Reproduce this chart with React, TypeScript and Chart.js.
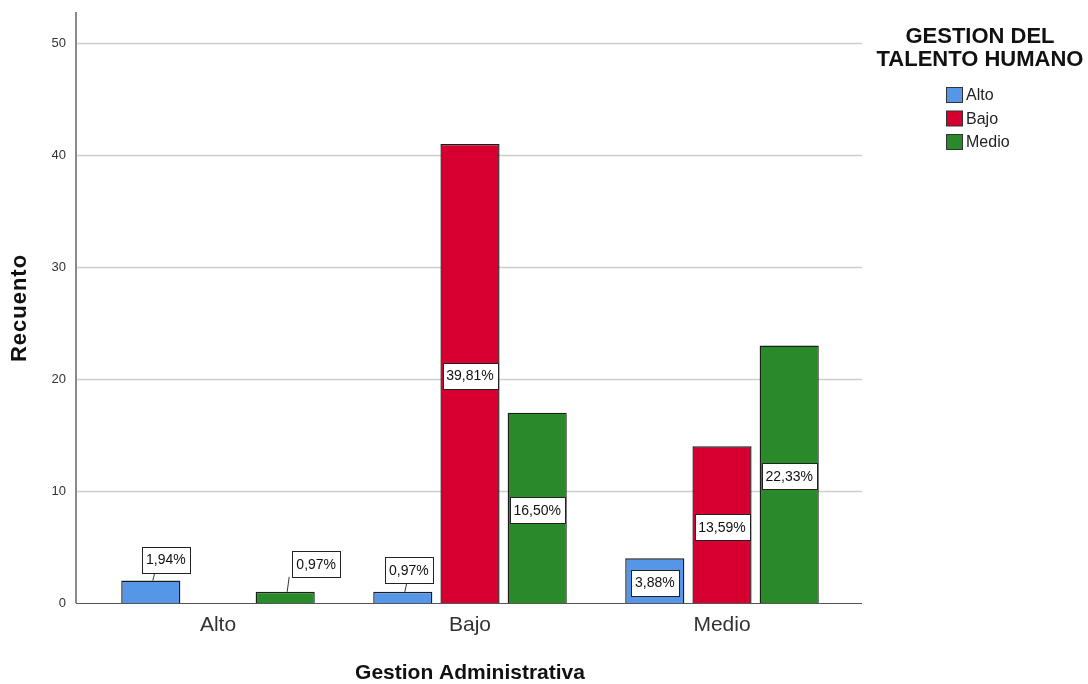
import React, { useEffect, useRef } from "react";
import { Chart, registerables } from "chart.js";

Chart.register(...registerables);

// Counts by "Gestion Administrativa" level, split by "Gestion del Talento Humano" level
const categories = ["Alto", "Bajo", "Medio"];
const seriesNames = ["Alto", "Bajo", "Medio"];
const altoCounts = [2, 1, 4];
const bajoCounts = [0, 41, 14];
const medioCounts = [1, 17, 23];
const yTicks = [0, 10, 20, 30, 40, 50];
const yAxisMax = 52.8;
const totalCases = 103;

const seriesColors = ["#5596E6", "#D5002F", "#288A28"];
const FONT = "'Liberation Sans', Arial, Helvetica, sans-serif";

// Label nudges for short bars whose percentage box sits above the bar
const calloutNudges: Record<string, { dx: number; gap: number }> = {
  "0-0": { dx: 15, gap: 8 },
  "2-0": { dx: 31, gap: 15 },
  "0-1": { dx: 6, gap: 9 },
};

const fmtPct = (v: number) => ((v / totalCases) * 100).toFixed(2).replace(".", ",") + "%";

const decorPlugin = {
  id: "decor",
  beforeDatasetsDraw(chart: any) {
    const { ctx, chartArea, scales } = chart;
    const y = scales.y;
    const axisLeft = 76;
    const axisRight = 862;
    ctx.save();
    ctx.strokeStyle = "#cdcdcd";
    ctx.lineWidth = 1.6;
    yTicks.forEach((t) => {
      if (t === 0) return;
      const py = Math.round(y.getPixelForValue(t)) + 0.5;
      ctx.beginPath();
      ctx.moveTo(axisLeft, py);
      ctx.lineTo(axisRight, py);
      ctx.stroke();
    });
    // vertical axis line
    ctx.strokeStyle = "#8a8a8a";
    ctx.lineWidth = 2;
    ctx.beginPath();
    ctx.moveTo(axisLeft, chartArea.top);
    ctx.lineTo(axisLeft, chartArea.bottom);
    ctx.stroke();
    ctx.restore();
  },
  afterDatasetsDraw(chart: any) {
    const { ctx, chartArea, scales } = chart;
    const y = scales.y;
    ctx.save();
    // baseline
    ctx.strokeStyle = "#555555";
    ctx.lineWidth = 1.2;
    const by = Math.round(y.getPixelForValue(0)) + 0.5;
    ctx.beginPath();
    ctx.moveTo(76, by);
    ctx.lineTo(862, by);
    ctx.stroke();

    // percentage boxes
    ctx.font = `14px ${FONT}`;
    ctx.textAlign = "center";
    ctx.textBaseline = "middle";
    chart.data.datasets.forEach((ds: any, di: number) => {
      const meta = chart.getDatasetMeta(di);
      meta.data.forEach((bar: any, i: number) => {
        const v = ds.data[i];
        if (!v) return;
        const text = fmtPct(v);
        const w = Math.round(ctx.measureText(text).width) + 8;
        const h = 26;
        let cx = bar.x;
        let cy = (bar.y + bar.base) / 2 + 2;
        const nudge = calloutNudges[`${di}-${i}`];
        if (nudge) {
          cx = bar.x + nudge.dx;
          const bottom = bar.y - nudge.gap;
          cy = bottom - h / 2;
          ctx.strokeStyle = "#333333";
          ctx.lineWidth = 1;
          ctx.beginPath();
          ctx.moveTo(bar.x + 2, bar.y);
          ctx.lineTo(bar.x + 4, bottom);
          ctx.stroke();
        }
        const bx = Math.round(cx - w / 2) + 0.5;
        const byy = Math.round(cy - h / 2) + 0.5;
        ctx.fillStyle = "#ffffff";
        ctx.fillRect(bx, byy, w, h);
        ctx.strokeStyle = "#222222";
        ctx.lineWidth = 1;
        ctx.strokeRect(bx, byy, w, h);
        ctx.fillStyle = "#111111";
        ctx.fillText(text, cx, cy + 1);
      });
    });

    // axis titles
    ctx.fillStyle = "#111111";
    ctx.font = `bold 21px ${FONT}`;
    ctx.textAlign = "center";
    ctx.textBaseline = "middle";
    ctx.fillText("Gestion Administrativa", (chartArea.left + chartArea.right) / 2, 673);
    ctx.save();
    ctx.translate(20, 308);
    ctx.rotate(-Math.PI / 2);
    ctx.font = `bold 22px ${FONT}`;
    (ctx as any).letterSpacing = "1px";
    ctx.fillText("Recuento", 0, 0);
    ctx.restore();

    // legend
    ctx.font = `bold 22px ${FONT}`;
    ctx.fillText("GESTION DEL", 980, 37);
    ctx.fillText("TALENTO HUMANO", 980, 60);
    ctx.font = `16px ${FONT}`;
    ctx.textAlign = "left";
    chart.data.datasets.forEach((ds: any, di: number) => {
      const top = 87 + di * 23.5;
      ctx.fillStyle = ds.backgroundColor;
      ctx.fillRect(946.5, top + 0.5, 16, 15);
      ctx.strokeStyle = "#333333";
      ctx.lineWidth = 1;
      ctx.strokeRect(946.5, top + 0.5, 16, 15);
      ctx.fillStyle = "#222222";
      ctx.fillText(ds.label, 966, top + 9);
    });
    ctx.restore();
  },
};

export default function App() {
  const canvasRef = useRef<HTMLCanvasElement | null>(null);

  useEffect(() => {
    const canvas = canvasRef.current;
    if (!canvas) return;
    const values = [altoCounts, bajoCounts, medioCounts];
    const chart = new Chart(canvas, {
      type: "bar",
      data: {
        labels: categories,
        datasets: seriesNames.map((name, k) => ({
          label: name,
          data: values[k],
          backgroundColor: seriesColors[k],
          borderColor: "#1c1c1c",
          borderWidth: 1.4,
          categoryPercentage: 0.8,
          barPercentage: 0.88,
        })),
      },
      options: {
        animation: false,
        responsive: false,
        maintainAspectRatio: false,
        layout: { padding: { left: 0, right: 240, top: 12, bottom: 0 } },
        plugins: {
          legend: { display: false },
          tooltip: { enabled: false },
          title: { display: false },
        },
        scales: {
          x: {
            offset: true,
            grid: { display: false, drawTicks: false },
            border: { display: false },
            ticks: {
              font: { family: FONT, size: 21 },
              color: "#333333",
              padding: 10,
            },
            afterFit: (scale: any) => {
              scale.height = 81;
            },
          },
          y: {
            min: 0,
            max: yAxisMax,
            grid: { display: false, drawTicks: false },
            border: { display: false },
            ticks: {
              font: { family: FONT, size: 13 },
              color: "#333333",
              padding: 26,
            },
            afterBuildTicks: (scale: any) => {
              scale.ticks = yTicks.map((v) => ({ value: v }));
            },
            afterFit: (scale: any) => {
              scale.width = 92;
              scale.paddingTop = 0;
              scale.paddingBottom = 0;
            },
          },
        },
      },
      plugins: [decorPlugin],
    });
    return () => chart.destroy();
  }, []);

  return (
    <div style={{ position: "fixed", left: 0, top: 0, width: 1088, height: 684, background: "#ffffff" }}>
      <canvas ref={canvasRef} width={1088} height={684} style={{ display: "block" }} />
    </div>
  );
}
